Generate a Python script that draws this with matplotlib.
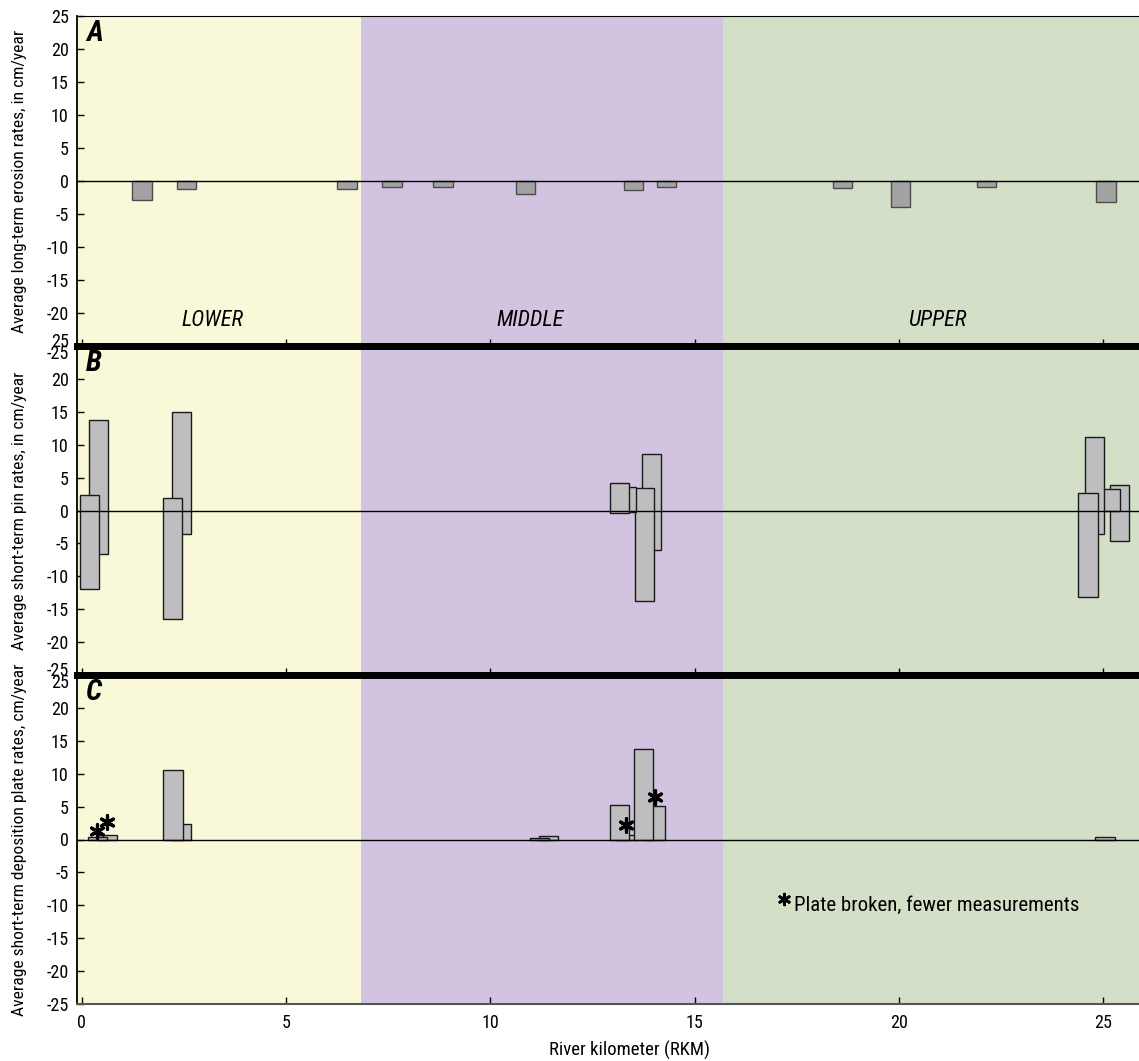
import matplotlib
matplotlib.use("Agg")
import matplotlib.pyplot as plt
from matplotlib import font_manager
from matplotlib.transforms import ScaledTranslation

# pick a condensed sans like the original figure, else DejaVu Sans
names = {f.name for f in font_manager.fontManager.ttflist}
NARROW = "DejaVu Sans"
for cand in ["Roboto Condensed", "Liberation Sans Narrow", "Archivo Narrow", "PT Sans Narrow",
             "Open Sans Condensed", "Encode Sans Condensed"]:
    if cand in names:
        NARROW = cand
        break
plt.rcParams["font.family"] = [NARROW, "DejaVu Sans"]
plt.rcParams["axes.unicode_minus"] = False

# river reaches (km)
zone_names = ["LOWER", "MIDDLE", "UPPER"]
zone_edges = [-0.2, 6.83, 15.69, 26.0]
zone_colors = ["#F9F9DA", "#D2C4E0", "#D4DFC8"]
zone_label_x = [3.2, 10.97, 20.93]

# A: long-term erosion rates
rkm_a = [1.47, 2.57, 6.49, 7.59, 8.84, 10.87, 13.51, 14.32, 18.63, 20.05, 22.15, 25.07]
rate_a = [-2.9, -1.2, -1.2, -0.85, -0.9, -2.0, -1.4, -0.9, -1.05, -4.0, -0.9, -3.2]

# B: short-term pin rates (range of each site), listed back to front
rkm_b = [0.40, 0.18, 2.44, 2.22, 13.94, 13.77, 13.33, 13.17, 25.40, 25.18, 24.79, 24.63]
pin_max = [13.7, 2.3, 15.0, 1.9, 8.6, 3.4, 3.6, 4.2, 3.8, 3.25, 11.2, 2.6]
pin_min = [-6.6, -11.9, -3.6, -16.5, -6.0, -13.8, -0.2, -0.45, -4.7, -0.1, -3.5, -13.1]

# C: short-term deposition plate rates, back to front
rkm_c = [0.62, 0.38, 2.44, 2.23, 11.43, 11.20, 13.33, 13.17, 14.03, 13.75, 25.05]
rate_c = [0.75, 0.35, 2.4, 10.6, 0.5, 0.3, 0.75, 5.2, 5.1, 13.7, 0.35]
broken = [0, 1, 6, 8]  # plates broken, fewer measurements
star_dy = [1.85, 0.9, 1.45, 1.3]

ylabels = ["Average long-term erosion rates, in cm/year",
           "Average short-term pin rates, in cm/year",
           "Average short-term deposition plate rates, cm/year"]
letters = ["A", "B", "C"]

W = 0.47
fig = plt.figure(figsize=(11.39, 10.61), dpi=100)
left, right = 77 / 1139, 1.0
tops = [16, 346, 675, 1004]
axes = []
for i in range(3):
    y0 = 1 - tops[i + 1] / 1061
    h = (tops[i + 1] - tops[i]) / 1061
    axes.append(fig.add_axes([left, y0, right - left, h]))

for i, ax in enumerate(axes):
    for k in range(3):
        ax.axvspan(zone_edges[k], zone_edges[k + 1], color=zone_colors[k], zorder=0, lw=0)
    ax.set_xlim(-0.12, 25.88)
    ax.set_ylim(-25, 25)
    ax.set_yticks(range(-25, 26, 5))
    ax.set_xticks(range(0, 26, 5))
    ax.tick_params(axis="both", direction="in", length=5, width=1, labelsize=13)
    ax.tick_params(axis="x", pad=7)
    ax.tick_params(axis="y", pad=6)
    ax.axhline(0, color="black", lw=1, zorder=5)
    ax.spines["right"].set_visible(False)
    ax.spines["left"].set_linewidth(1.3)
    ax.set_ylabel(ylabels[i], fontsize=12.6)
    ax.yaxis.set_label_coords(-0.047, 0.5)
    ax.text(0.0085, 0.99, letters[i], transform=ax.transAxes, fontsize=21,
            fontweight="bold", fontstyle="italic", va="top", ha="left")
    if i < 2:
        ax.tick_params(axis="x", labelbottom=False)
        ax.spines["bottom"].set_linewidth(5)
    if i > 0:
        ax.spines["top"].set_linewidth(5)

axes[0].spines["top"].set_linewidth(0.8)
axes[2].spines["bottom"].set_color("#555555")
axes[2].spines["bottom"].set_linewidth(1.5)

# nudge the stacked +/-25 labels at the panel joins, as in the original
shifts = [(0, 0, -4), (1, -1, 4), (1, 0, 4), (2, -1, -4)]
for i, idx, dy in shifts:
    lab = axes[i].get_yticklabels()[idx]
    lab.set_transform(lab.get_transform() + ScaledTranslation(0, dy / 72, fig.dpi_scale_trans))

for k in range(3):
    axes[0].text(zone_label_x[k], -21.2, zone_names[k], fontsize=16, fontstyle="italic",
                 ha="center", va="center")

axes[0].bar(rkm_a, rate_a, width=W, color="#A3A3A3", edgecolor="#4d4d4d", lw=1, zorder=3)

heights_b = [t - b for t, b in zip(pin_max, pin_min)]
axes[1].bar(rkm_b, heights_b, bottom=pin_min, width=W, color="#BEBDBF",
            edgecolor="#1a1a1a", lw=1, zorder=3)

axes[2].bar(rkm_c, rate_c, width=W, color="#BEBDBF", edgecolor="#1a1a1a", lw=1, zorder=3)
axes[2].scatter([rkm_c[j] for j in broken],
                [rate_c[j] + d for j, d in zip(broken, star_dy)],
                marker=(6, 2, 0), s=95, color="black", lw=2.3, zorder=6)
axes[2].scatter([17.19], [-9.0], marker=(6, 2, 0), s=60, color="black", lw=2, zorder=6)
axes[2].text(17.43, -10.0, "Plate broken, fewer measurements", fontsize=15,
             ha="left", va="center")

axes[2].set_xlabel("River kilometer (RKM)", fontsize=13.5)
axes[2].xaxis.set_label_coords(0.52, -0.113)

fig.savefig("out.png", dpi=100)
